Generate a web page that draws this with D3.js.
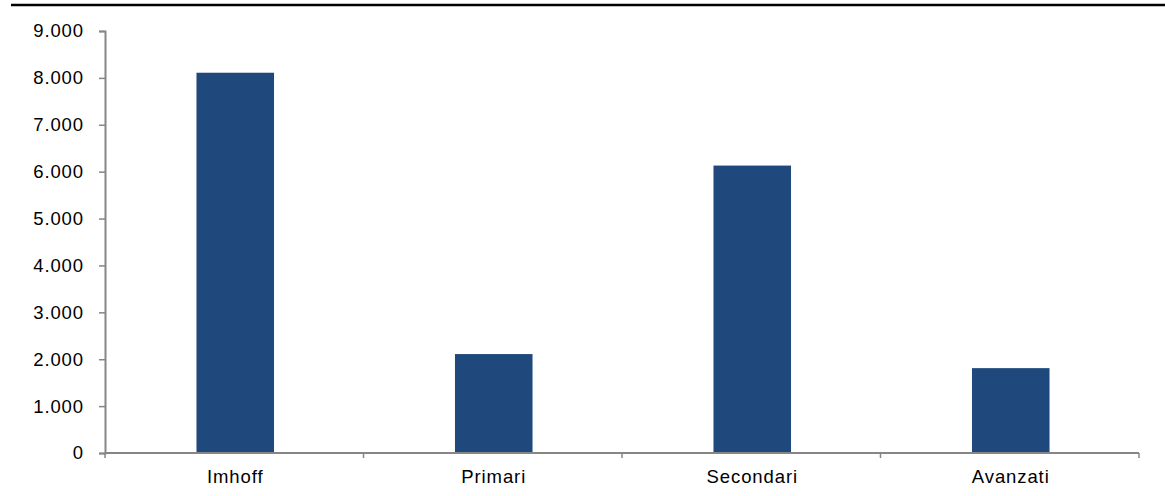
<!DOCTYPE html>
<html>
<head>
<meta charset="utf-8">
<script src="https://cdn.jsdelivr.net/npm/d3@7"></script>
<style>
  body { margin: 0; background: #fff; }
  text { font-family: "Liberation Sans", Arial, sans-serif; font-size: 18.5px; letter-spacing: 0.9px; fill: #000; }
</style>
</head>
<body>
<div id="container"></div>
<script>
// ------ Data ------
const categories = ['Imhoff', 'Primari', 'Secondari', 'Avanzati'];
const values = [8110, 2110, 6130, 1810];
const yTicks = [0, 1000, 2000, 3000, 4000, 5000, 6000, 7000, 8000, 9000];

// ------ Global Values ------
const width = 1165,
  height = 496;
const margin = {top: 31, right: 26, bottom: 43, left: 105};

const svg = d3.select('#container').append('svg')
  .attr('width', width)
  .attr('height', height);

// thick rule along the top
svg.append('line')
  .attr('x1', 11).attr('x2', width)
  .attr('y1', 5).attr('y2', 5)
  .attr('stroke', '#000')
  .attr('stroke-width', 2.6);

const x = d3.scaleBand()
  .domain(categories)
  .range([margin.left, width - margin.right])
  .paddingInner(0.7)
  .paddingOuter(0.35);

const y = d3.scaleLinear()
  .domain([0, 9000])
  .range([height - margin.bottom, margin.top]);

const fmt = d => d === 0 ? '0' : d3.format(',')(d).replace(/,/g, '.');

// bars
svg.append('g')
  .selectAll('rect').data(values)
    .enter().append('rect')
    .attr('x', (d, i) => x(categories[i]) + 1)
    .attr('width', x.bandwidth())
    .attr('y', d => y(d))
    .attr('height', d => y(0) - y(d))
    .attr('fill', '#1f497d');

// y axis
const yAxis = svg.append('g')
  .attr('transform', `translate(${margin.left},0)`)
  .call(d3.axisLeft(y).tickValues(yTicks).tickFormat(fmt).tickSize(6).tickPadding(15));
yAxis.select('.domain').attr('stroke', '#868686').attr('stroke-width', 2);
yAxis.selectAll('.tick line').attr('stroke', '#868686').attr('stroke-width', 1.5);
yAxis.selectAll('.tick text').attr('font-size', null).attr('font-family', null);

// x axis, ticks sit between the categories
const bounds = d3.range(categories.length + 1).map(i => margin.left + i * (width - margin.right - margin.left) / categories.length);
const xAxis = svg.append('g').attr('transform', `translate(0,${y(0)})`);
xAxis.append('line')
  .attr('x1', margin.left).attr('x2', width - margin.right)
  .attr('stroke', '#868686').attr('stroke-width', 2);
xAxis.selectAll('.xtick').data(bounds)
  .enter().append('line')
  .attr('x1', d => d).attr('x2', d => d)
  .attr('y1', 0).attr('y2', 5)
  .attr('stroke', '#868686').attr('stroke-width', 1.5);
xAxis.selectAll('.xlabel').data(categories)
  .enter().append('text')
  .attr('x', d => x(d) + x.bandwidth() / 2 + 1)
  .attr('y', 30)
  .attr('text-anchor', 'middle')
  .text(d => d);
</script>
</body>
</html>
